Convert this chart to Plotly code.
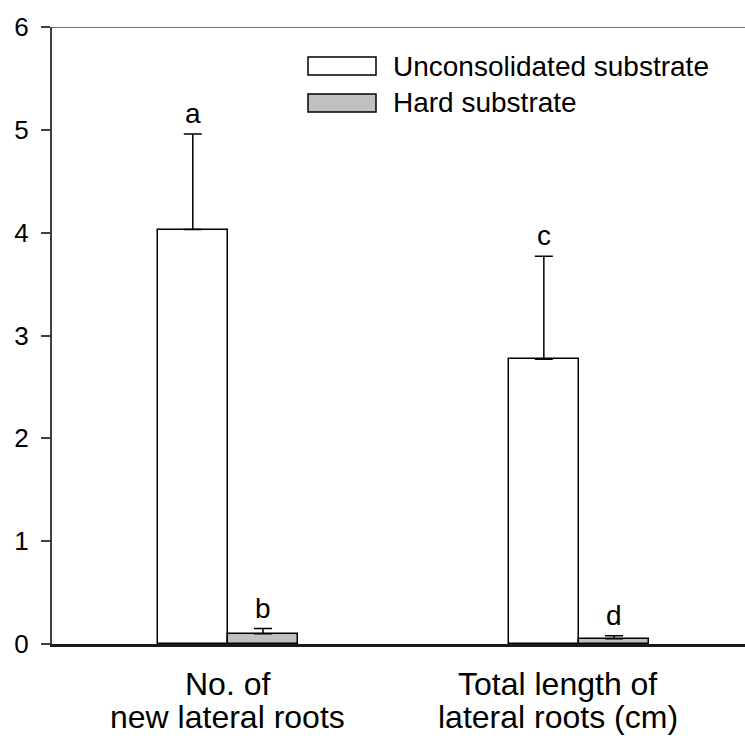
import plotly.graph_objects as go

# ---- data ----
categories = ["No. of<br>new lateral roots", "Total length of<br>lateral roots (cm)"]
series_names = ["Unconsolidated substrate", "Hard substrate"]
unconsolidated = [4.03, 2.77]
unconsolidated_err = [0.93, 1.00]
hard = [0.10, 0.05]
hard_err = [0.05, 0.03]
letters_unconsolidated = ["a", "c"]
letters_hard = ["b", "d"]
y_ticks = [0, 1, 2, 3, 4, 5, 6]

FONT = "Liberation Sans, Arial, sans-serif"
W, H = 745, 738
ML, MR, MT, MB = 52, 0, 27, 94
PW, PH = W - ML - MR, H - MT - MB

def px_x(px):
    return (px - ML) / PW

def px_y(py):
    return (H - MB - py) / PH

group_x = [0, 1]
bar_w = 0.2

fig = go.Figure()
fig.add_trace(go.Bar(
    x=group_x, y=unconsolidated, name=series_names[0],
    width=bar_w, offset=-bar_w,
    marker=dict(color="white", line=dict(color="black", width=1.5)),
    error_y=dict(type="data", array=unconsolidated_err, symmetric=False,
                 arrayminus=[0, 0], color="black", thickness=1.5, width=9),
    showlegend=False,
))
fig.add_trace(go.Bar(
    x=group_x, y=hard, name=series_names[1],
    width=bar_w, offset=0,
    marker=dict(color="#c0c0c0", line=dict(color="black", width=1.5)),
    error_y=dict(type="data", array=hard_err, symmetric=False,
                 arrayminus=[0, 0], color="black", thickness=1.5, width=9),
    showlegend=False,
))

annotations = []
for i, g in enumerate(group_x):
    annotations.append(dict(x=g - bar_w / 2, y=unconsolidated[i] + unconsolidated_err[i],
                            text=letters_unconsolidated[i], showarrow=False,
                            xref="x", yref="y", yanchor="bottom", yshift=3,
                            font=dict(size=28, color="black", family=FONT)))
    annotations.append(dict(x=g + bar_w / 2, y=hard[i] + hard_err[i],
                            text=letters_hard[i], showarrow=False,
                            xref="x", yref="y", yanchor="bottom", yshift=3,
                            font=dict(size=28, color="black", family=FONT)))

# category labels under the axis (one annotation per line for tight spacing)
label_x = [0, 0.94]
line_centers_px = [684, 717]
for i, c in enumerate(categories):
    for j, line in enumerate(c.split("<br>")):
        annotations.append(dict(x=label_x[i], y=px_y(line_centers_px[j]), xref="x", yref="paper",
                                text=line, showarrow=False, yanchor="middle",
                                font=dict(size=32, color="black", family=FONT)))

# legend drawn manually
shapes = []
legend_rows = [(57, 75, "white"), (94, 112, "#c0c0c0")]
for (y0, y1, col), name in zip(legend_rows, series_names):
    shapes.append(dict(type="rect", xref="paper", yref="paper",
                       x0=px_x(308), x1=px_x(376), y0=px_y(y1), y1=px_y(y0),
                       fillcolor=col, line=dict(color="black", width=1.5)))
    annotations.append(dict(x=px_x(391), y=px_y((y0 + y1) / 2), xref="paper", yref="paper",
                            text=name, showarrow=False, xanchor="left", yanchor="middle",
                            font=dict(size=28, color="black", family=FONT)))

fig.update_layout(
    width=W, height=H,
    margin=dict(l=ML, r=MR, t=MT, b=MB),
    paper_bgcolor="white", plot_bgcolor="white",
    font=dict(family=FONT, color="black"),
    showlegend=False,
    bargap=0, barmode="overlay",
    annotations=annotations, shapes=shapes,
    xaxis=dict(range=[-0.501, 1.473], showticklabels=False, ticks="",
               showline=True, linecolor="#1a1a1a", linewidth=2.5,
               mirror=False, showgrid=False, zeroline=False, fixedrange=True),
    yaxis=dict(range=[0, 6], tickvals=y_ticks, ticks="outside", ticklen=9,
               tickwidth=1.5, tickcolor="#404040",
               showline=True, linecolor="#404040", linewidth=2,
               showgrid=False, zeroline=False,
               tickfont=dict(size=26, color="black", family=FONT),
               ticklabelstandoff=7),
)
# top border line at y = 6
fig.add_shape(type="line", xref="paper", yref="y", x0=0, x1=1, y0=6, y1=6,
              line=dict(color="#404040", width=1.5))

fig.write_html("out.html")
